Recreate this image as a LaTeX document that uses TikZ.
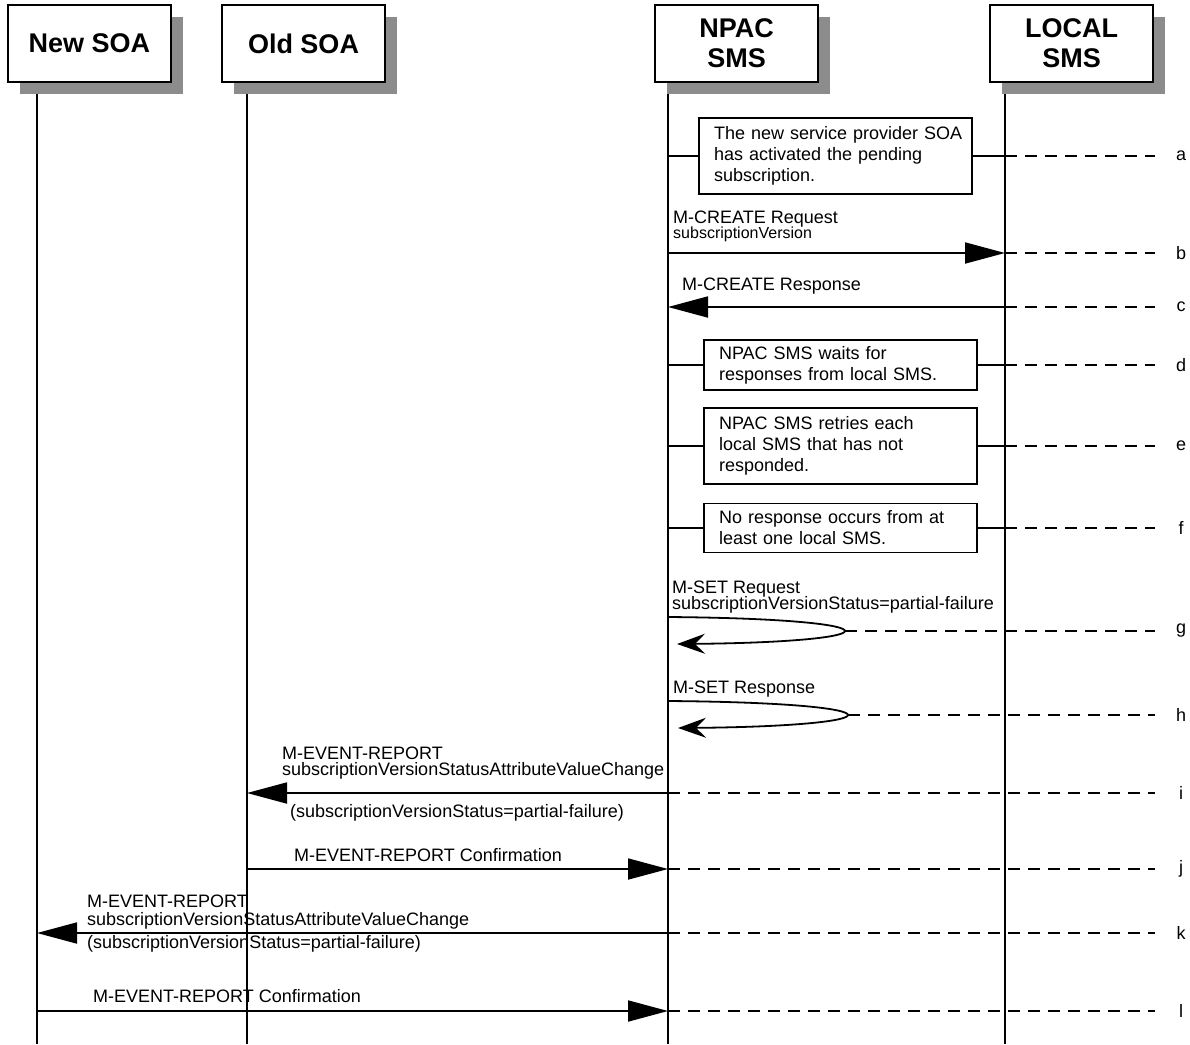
\documentclass[tikz,border=0pt]{standalone}
\usepackage{fontspec}
\setmainfont{Liberation Sans}
\usetikzlibrary{arrows.meta,calc}
\definecolor{shadowgray}{RGB}{140,140,140}
\begin{document}
\begin{tikzpicture}[x=1pt,y=-1pt,
  header/.style={draw=black, line width=1.8pt, fill=white, minimum width=163pt, minimum height=77pt, inner sep=0pt, align=center, font=\fontsize{27}{30}\selectfont\bfseries},
  hshadow/.style={fill=shadowgray, minimum width=163pt, minimum height=77pt, inner sep=0pt},
  note/.style={draw=black, line width=1.8pt, fill=white, inner xsep=15pt, inner ysep=0pt, text width=243pt, align=left, font=\fontsize{18}{21}\selectfont},
  lbl/.style={anchor=base west, inner sep=0pt, font=\fontsize{18}{21}\selectfont},
  smalllbl/.style={anchor=base west, inner sep=0pt, font=\fontsize{16}{18}\selectfont},
  life/.style={line width=1.8pt},
  msg/.style={line width=1.8pt, -{Triangle[length=40pt,width=21pt]}},
  loopmsg/.style={line width=1.8pt, -{Stealth[length=28pt,width=20pt,inset=10pt]}},
  dashline/.style={line width=1.8pt, dash pattern=on 12pt off 8pt},
  rowlbl/.style={font=\fontsize{18}{21}\selectfont, inner sep=0pt}
]
\useasboundingbox (0,0) rectangle (1190,1044);

% lifeline anchors
\coordinate (Lnew) at (37,82);
\coordinate (Lold) at (247,82);
\coordinate (Lnpac) at (668,82);
\coordinate (Lloc) at (1005,82);
\coordinate (bot) at (0,1044);

% lifelines
\draw[life] (Lnew) -- (Lnew |- bot);
\draw[life] (Lold) -- (Lold |- bot);
\draw[life] (Lnpac) -- (Lnpac |- bot);
\draw[life] (Lloc) -- (Lloc |- bot);

% header shadows
\node[hshadow] (snew) at (101.5,55.5) {};
\node[hshadow] (sold) at (315.5,55.5) {};
\node[hshadow] (snpac) at (748.5,55.5) {};
\node[hshadow] (sloc) at (1083.5,55.5) {};

% headers
\node[header] (newsoa) at (89.5,43.5) {New SOA};
\node[header] (oldsoa) at (303.5,43.5) {Old SOA};
\node[header] (npac) at (736.5,43.5) {NPAC\\SMS};
\node[header] (local) at (1071.5,43.5) {LOCAL\\SMS};

% row end coordinates and labels
\coordinate (ra) at (1155,156);
\coordinate (rb) at (1155,253);
\coordinate (rc) at (1155,307);
\coordinate (rd) at (1155,365);
\coordinate (re) at (1155,446);
\coordinate (rf) at (1155,528);
\coordinate (rg) at (1155,631);
\coordinate (rh) at (1155,715);
\coordinate (ri) at (1155,793);
\coordinate (rj) at (1155,869);
\coordinate (rk) at (1155,933);
\coordinate (rl) at (1155,1011);

\node[rowlbl] (la) at (1181,156) {a};
\node[rowlbl] (lb) at (1181,253) {b};
\node[rowlbl] (lc) at (1181,307) {c};
\node[rowlbl] (ld) at (1181,365) {d};
\node[rowlbl] (le) at (1181,446) {e};
\node[rowlbl] (lf) at (1181,528) {f};
\node[rowlbl] (lg) at (1181,631) {g};
\node[rowlbl] (lh) at (1181,715) {h};
\node[rowlbl] (li) at (1181,793) {i};
\node[rowlbl] (lj) at (1181,869) {j};
\node[rowlbl] (lk) at (1181,933) {k};
\node[rowlbl] (ll) at (1181,1011) {l};

% a
\node[note, minimum height=76pt] (na) at (835.5,156) {\mbox{The new service provider SOA}\\\mbox{has activated the pending}\\\mbox{subscription.}};
\draw[life] (Lnpac |- na.west) -- (na.west);
\draw[life] (na.east) -- (Lloc |- na.east);
\draw[dashline] (Lloc |- ra) -- (ra);

% b
\node[lbl] (tb1) at (673,223) {M-CREATE Request};
\node[smalllbl] (tb2) at (673,238) {subscriptionVersion};
\draw[msg] (Lnpac |- rb) -- (Lloc |- rb);
\draw[dashline] (Lloc |- rb) -- (rb);

% c
\node[lbl] (tc) at (682,290) {M-CREATE Response};
\draw[msg] (Lloc |- rc) -- (Lnpac |- rc);
\draw[dashline] (Lloc |- rc) -- (rc);

% d
\node[note, minimum height=50pt] (nd) at (840.5,365) {\mbox{NPAC SMS waits for}\\\mbox{responses from local SMS.}};
\draw[life] (Lnpac |- nd.west) -- (nd.west);
\draw[life] (nd.east) -- (Lloc |- nd.east);
\draw[dashline] (Lloc |- rd) -- (rd);

% e
\node[note, minimum height=76pt] (ne) at (840.5,446) {\mbox{NPAC SMS retries each}\\\mbox{local SMS that has not}\\\mbox{responded.}};
\draw[life] (Lnpac |- ne.west) -- (ne.west);
\draw[life] (ne.east) -- (Lloc |- ne.east);
\draw[dashline] (Lloc |- re) -- (re);

% f
\node[note, minimum height=49pt] (nf) at (840.5,528) {\mbox{No response occurs from at}\\\mbox{least one local SMS.}};
\draw[life] (Lnpac |- nf.west) -- (nf.west);
\draw[life] (nf.east) -- (Lloc |- nf.east);
\draw[dashline] (Lloc |- rf) -- (rf);

% g
\node[lbl] (tg1) at (672,593) {M-SET Request};
\node[lbl] (tg2) at (672,609) {subscriptionVersionStatus=partial-failure};
\coordinate (g0) at (668,617);
\coordinate (gt) at (845,631);
\coordinate (g1) at (677,644);
\draw[loopmsg] (g0) .. controls (790,618) and (845,625) .. (gt) .. controls (845,637) and (790,643) .. (g1);
\draw[dashline] (gt) -- (rg);

% h
\node[lbl] (th) at (673,693) {M-SET Response};
\coordinate (h0) at (668,701);
\coordinate (ht) at (848,715);
\coordinate (h1) at (678,728);
\draw[loopmsg] (h0) .. controls (793,702) and (848,709) .. (ht) .. controls (848,721) and (793,727) .. (h1);
\draw[dashline] (ht) -- (rh);

% i
\node[lbl] (ti1) at (282,759) {M-EVENT-REPORT};
\node[lbl] (ti2) at (282,775) {subscriptionVersionStatusAttributeValueChange};
\node[lbl] (ti3) at (290,817) {(subscriptionVersionStatus=partial-failure)};
\draw[msg] (Lnpac |- ri) -- (Lold |- ri);
\draw[dashline] (Lnpac |- ri) -- (ri);

% j
\node[lbl] (tj) at (294,861) {M-EVENT-REPORT Confirmation};
\draw[msg] (Lold |- rj) -- (Lnpac |- rj);
\draw[dashline] (Lnpac |- rj) -- (rj);

% k
\node[lbl] (tk1) at (87,907) {M-EVENT-REPORT};
\node[lbl] (tk2) at (87,925) {subscriptionVersionStatusAttributeValueChange};
\node[lbl] (tk3) at (87,948) {(subscriptionVersionStatus=partial-failure)};
\draw[msg] (Lnpac |- rk) -- (Lnew |- rk);
\draw[dashline] (Lnpac |- rk) -- (rk);

% l
\node[lbl] (tl) at (93,1002) {M-EVENT-REPORT Confirmation};
\draw[msg] (Lnew |- rl) -- (Lnpac |- rl);
\draw[dashline] (Lnpac |- rl) -- (rl);
\end{tikzpicture}
\end{document}
